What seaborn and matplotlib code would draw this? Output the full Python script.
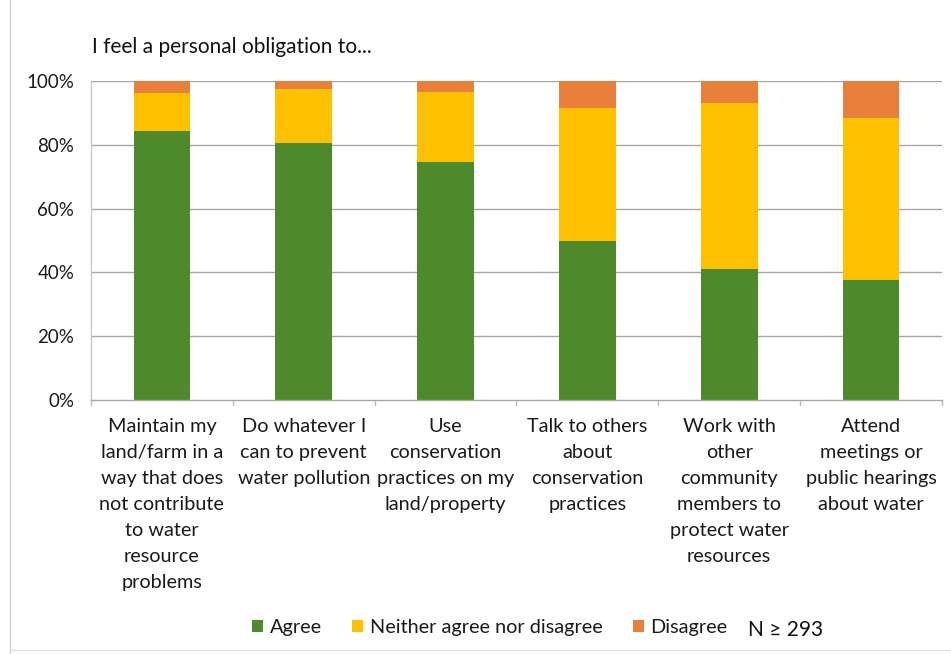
import matplotlib
matplotlib.use("Agg")
import matplotlib.pyplot as plt
import seaborn as sns
import numpy as np
import pandas as pd
from matplotlib.patches import Patch
from matplotlib.lines import Line2D

categories = [
    "Maintain my\nland/farm in a\nway that does\nnot contribute\nto water\nresource\nproblems",
    "Do whatever I\ncan to prevent\nwater pollution",
    "Use\nconservation\npractices on my\nland/property",
    "Talk to others\nabout\nconservation\npractices",
    "Work with\nother\ncommunity\nmembers to\nprotect water\nresources",
    "Attend\nmeetings or\npublic hearings\nabout water",
]
agree = [84.3, 80.5, 74.7, 50.0, 41.2, 37.5]
neither = [11.8, 16.9, 21.9, 41.6, 51.8, 50.8]
disagree = [3.9, 2.6, 3.4, 8.4, 7.0, 11.7]
series_names = ["Agree", "Neither agree nor disagree", "Disagree"]
yticks = [0, 20, 40, 60, 80, 100]
title = "I feel a personal obligation to..."
note = "N \u2265 293"

colors = {"Agree": "#4E8A2C", "Neither agree nor disagree": "#FFC000", "Disagree": "#E8803A"}

sns.set_theme(style="white")
plt.rcParams["font.family"] = ["Lato", "DejaVu Sans"]

fig = plt.figure(figsize=(9.51, 6.54), dpi=100)
ax = fig.add_axes([91/951, 1 - 400/654, (942-91)/951, (400-81)/654])

df = pd.DataFrame({"cat": categories, "agree": agree, "neither": neither, "disagree": disagree})
df["top"] = df["agree"] + df["neither"] + df["disagree"]
df["mid"] = df["agree"] + df["neither"]

kw = dict(x="cat", width=0.4, ax=ax, saturation=1, linewidth=0, edgecolor="none")
sns.barplot(data=df, y="top", color=colors["Disagree"], **kw)
sns.barplot(data=df, y="mid", color=colors["Neither agree nor disagree"], **kw)
sns.barplot(data=df, y="agree", color=colors["Agree"], **kw)

ax.set_ylim(0, 100)
ax.set_xlim(-0.5, len(categories) - 0.5)
ax.set_yticks(yticks)
ax.set_yticklabels([f"{v}%" for v in yticks], fontsize=13.5, color="#1a1a1a")
ax.set_xlabel("")
ax.set_ylabel("")
ax.set_xticks(range(len(categories)))
ax.set_xticklabels(categories, fontsize=14.3, color="#1a1a1a", linespacing=1.64, va="top")
ax.tick_params(axis="x", length=0, pad=13)
ax.tick_params(axis="y", length=0, pad=12)

for v in yticks[1:]:
    ax.axhline(v, color="#A6A6A6", lw=1, zorder=0)
ax.set_axisbelow(True)
for s in ["top", "right"]:
    ax.spines[s].set_visible(False)
ax.spines["left"].set_color("#C8C8C8")
ax.spines["bottom"].set_color("#A6A6A6")
ax.spines["left"].set_linewidth(1)
ax.spines["bottom"].set_linewidth(1)
# category boundary tick marks
for b in np.arange(-0.5, len(categories), 1.0):
    ax.plot([b, b], [0, -1.6], color="#BBBBBB", lw=1, clip_on=False)

fig.text(92/951, 1 - 47/654, title, fontsize=15, color="#111111", va="center", ha="left")

handles = [Patch(facecolor=colors[n], edgecolor="none") for n in series_names]
leg = fig.legend(handles, series_names, loc="center", bbox_to_anchor=(490/951, 1 - 628/654),
                 ncol=3, frameon=False, fontsize=14.3, handlelength=0.55, handleheight=0.55,
                 handletextpad=0.35, columnspacing=1.5)
for t in leg.get_texts():
    t.set_color("#1a1a1a")
fig.text(748/951, 1 - 630/654, note, fontsize=15, color="#111111", va="center", ha="left")

# faint outer frame
fig.add_artist(Line2D([10/951, 10/951], [0, 1], transform=fig.transFigure, color="#D0D0D0", lw=1))
fig.add_artist(Line2D([10/951, 1], [1 - 650/654, 1 - 650/654], transform=fig.transFigure, color="#E0E0E0", lw=1))

fig.savefig("out.png", dpi=100)
